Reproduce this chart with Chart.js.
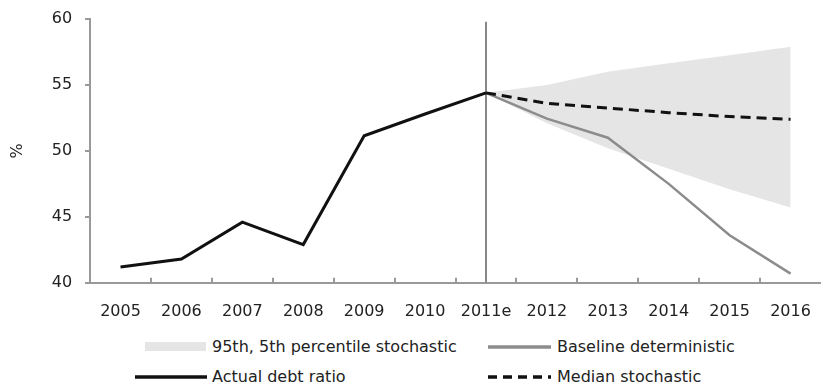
<!DOCTYPE html>
<html>
<head>
<meta charset="utf-8">
<script src="https://cdn.jsdelivr.net/npm/chart.js@4/dist/chart.umd.min.js"></script>
<style>
  body { margin: 0; background: #fff; font-family: "DejaVu Sans", sans-serif; }
  #wrap { position: relative; width: 821px; height: 384px; }
  #chart { position: absolute; left: 0; top: 0; }
  .lg { position: absolute; font-size: 16px; color: #222; line-height: 20px; white-space: nowrap; }
  .sw { position: absolute; }
</style>
</head>
<body>
<div id="wrap">
  <canvas id="chart" width="821" height="328"></canvas>
  <svg class="sw" style="left:145px;top:342px" width="62" height="10"><rect x="0" y="0" width="61" height="9" fill="#e5e5e5"/></svg>
  <div class="lg" style="left:212px;top:337px">95th, 5th percentile stochastic</div>
  <svg class="sw" style="left:488px;top:344px" width="64" height="6"><line x1="0" y1="3" x2="63" y2="3" stroke="#8c8c8c" stroke-width="3.5"/></svg>
  <div class="lg" style="left:557px;top:337px">Baseline deterministic</div>
  <svg class="sw" style="left:135px;top:374px" width="73" height="6"><line x1="0" y1="3" x2="72" y2="3" stroke="#111" stroke-width="3.5"/></svg>
  <div class="lg" style="left:212px;top:367px">Actual debt ratio</div>
  <svg class="sw" style="left:488px;top:374px" width="64" height="6"><line x1="0" y1="3" x2="63" y2="3" stroke="#111" stroke-width="3.5" stroke-dasharray="9,6"/></svg>
  <div class="lg" style="left:557px;top:367px">Median stochastic</div>
</div>
<script>
// years on the x axis
const years = ['2005', '2006', '2007', '2008', '2009', '2010', '2011e', '2012', '2013', '2014', '2015', '2016'];

// debt ratio, %
const actual = [41.2, 41.8, 44.6, 42.9, 51.15, 52.8, 54.4, null, null, null, null, null];
const baseline = [null, null, null, null, null, null, 54.4, 52.45, 51.0, 47.5, 43.6, 40.7];
const median = [null, null, null, null, null, null, 54.4, 53.6, 53.25, 52.9, 52.6, 52.4];
const p95 = [null, null, null, null, null, null, 54.4, 55.0, 56.0, 56.65, 57.25, 57.9];
const p5 = [null, null, null, null, null, null, 54.4, 52.1, 50.2, 48.65, 47.1, 45.7];

const yTicks = [40, 45, 50, 55, 60];
const splitIndex = 6; // 2011e

const gray = '#999';

// extra marks: short tick marks on both axes, vertical line at 2011e
const marks = {
    id: 'marks',
    beforeDatasetsDraw(chart) {
        const c = chart.ctx;
        const xs = chart.scales.x;
        const ys = chart.scales.y;
        const { left, bottom } = chart.chartArea;
        c.save();
        c.strokeStyle = gray;
        c.lineWidth = 2;
        for (let i = 0; i < years.length - 1; i++) {
            const x = Math.round((xs.getPixelForValue(i) + xs.getPixelForValue(i + 1)) / 2);
            c.beginPath();
            c.moveTo(x, bottom);
            c.lineTo(x, bottom - 5);
            c.stroke();
        }
        yTicks.forEach(v => {
            const y = Math.round(ys.getPixelForValue(v));
            c.beginPath();
            c.moveTo(left, y);
            c.lineTo(left - 5, y);
            c.stroke();
        });
        const vx = Math.round(xs.getPixelForValue(splitIndex));
        c.strokeStyle = '#888';
        c.beginPath();
        c.moveTo(vx, ys.getPixelForValue(59.8));
        c.lineTo(vx, bottom);
        c.stroke();
        c.restore();
    }
};

const ctx = document.getElementById('chart').getContext('2d');

new Chart(ctx, {
    type: 'line',
    data: {
        labels: years,
        datasets: [
            {
                label: '95th',
                data: p95,
                borderWidth: 0,
                borderColor: 'rgba(0,0,0,0)',
                backgroundColor: '#e5e5e5',
                fill: '+1',
                order: 5
            },
            {
                label: '5th',
                data: p5,
                borderWidth: 0,
                borderColor: 'rgba(0,0,0,0)',
                fill: false,
                order: 6
            },
            {
                label: 'Baseline deterministic',
                data: baseline,
                borderColor: '#8c8c8c',
                borderWidth: 2.5,
                fill: false,
                order: 3
            },
            {
                label: 'Actual debt ratio',
                data: actual,
                borderColor: '#111',
                borderWidth: 3,
                fill: false,
                order: 2
            },
            {
                label: 'Median stochastic',
                data: median,
                borderColor: '#111',
                borderWidth: 3,
                borderDash: [10, 6],
                fill: false,
                order: 1
            }
        ]
    },
    options: {
        responsive: false,
        animation: false,
        layout: { padding: { top: 19, left: 8, right: 0, bottom: 5 } },
        elements: { point: { radius: 0 }, line: { tension: 0 } },
        plugins: {
            legend: { display: false },
            tooltip: { enabled: false }
        },
        scales: {
            x: {
                offset: true,
                grid: { display: true, drawOnChartArea: false, drawTicks: true, tickLength: 17, color: 'rgba(0,0,0,0)' },
                border: { color: gray, width: 2 },
                ticks: {
                    color: '#222',
                    padding: 2,
                    maxRotation: 0,
                    autoSkip: false,
                    font: { family: 'DejaVu Sans', size: 16 }
                }
            },
            y: {
                min: 40,
                max: 60,
                afterBuildTicks(scale) {
                    scale.ticks = yTicks.map(v => ({ value: v }));
                },
                grid: { display: true, drawOnChartArea: false, drawTicks: true, tickLength: 18, color: 'rgba(0,0,0,0)' },
                border: { color: gray, width: 2 },
                ticks: {
                    color: '#222',
                    padding: 0,
                    font: { family: 'DejaVu Sans', size: 16 }
                },
                title: {
                    display: true,
                    text: '%',
                    color: '#222',
                    padding: { top: 0, bottom: 24.5 },
                    font: { family: 'DejaVu Sans', size: 16 }
                }
            }
        }
    },
    plugins: [marks]
});
</script>
</body>
</html>
